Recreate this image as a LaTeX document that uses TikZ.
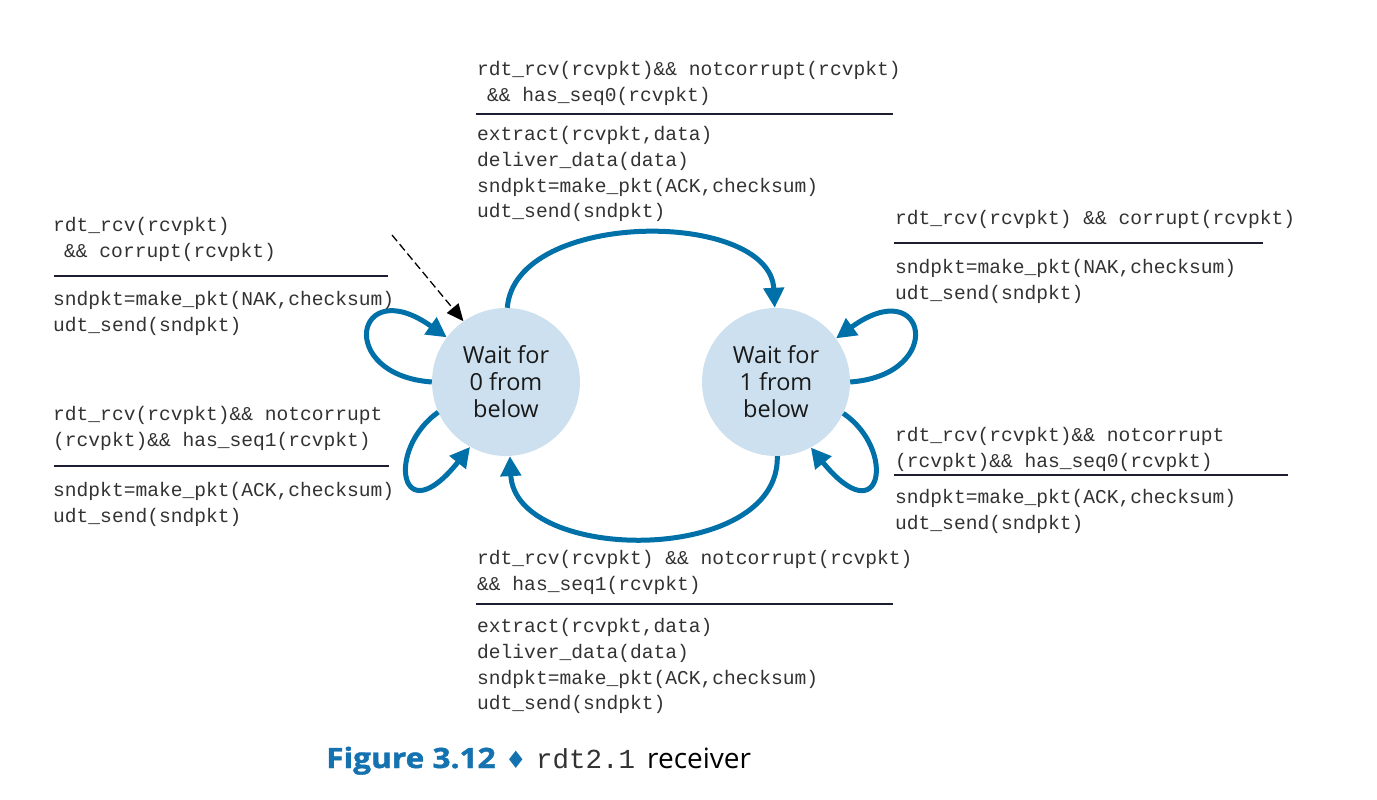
\documentclass[tikz,border=0pt]{standalone}
\usepackage{fontspec}
\setmainfont{Open Sans}
\newfontfamily\monof{Liberation Mono}
\newfontfamily\sansf{Open Sans}
\newfontfamily\capf{Open Sans}[FakeStretch=1.13, BoldFeatures={FakeBold=1.5}]
\newfontfamily\symf{DejaVu Sans}
\usetikzlibrary{arrows.meta}
\definecolor{arrowblue}{RGB}{0,112,168}
\definecolor{statefill}{RGB}{204,224,239}
\definecolor{textc}{RGB}{50,50,50}
\definecolor{rulec}{RGB}{30,30,50}
\definecolor{capblue}{RGB}{20,114,176}
\begin{document}
\begin{tikzpicture}[x=1pt,y=-1pt,
 state/.style={circle, fill=statefill, minimum size=148pt, inner sep=0pt, align=center,
   font=\sansf\fontsize{23.5}{27}\selectfont, text=black!90},
 code/.style={inner sep=0pt, anchor=north west, align=left,
   font=\monof\fontsize{19.6}{25.7}\selectfont, text=textc},
 trans/.style={draw=arrowblue, line width=5pt, -{Triangle[length=20pt,width=20pt]}},
 rulel/.style={draw=rulec, line width=1.4pt},
 init/.style={draw=black, line width=1.3pt, dash pattern=on 8pt off 4pt,
   -{Triangle[length=17pt,width=15pt]}},
 capt/.style={inner sep=0pt, anchor=base west, font=\sansf\fontsize{28}{30}\selectfont}]
\useasboundingbox (0,0) rectangle (1377,800);

% states
\node[state] (L) at (506,382) {Wait for\\0 from\\below};
\node[state] (R) at (776,382) {Wait for\\1 from\\below};

% transitions between states
\draw[trans] (L.89) .. controls (515,209) and (770,209) .. (R.91);
\draw[trans] (R.271.5) .. controls (780,566) and (515,564) .. (L.273);

% self loops
\draw[trans] (L.180) .. controls (335,375) and (355,272) .. (L.143.6);
\draw[trans] (L.204.5) .. controls (385,450) and (400,535) .. (L.241.4);
\draw[trans] (R.0) .. controls (947,375) and (927,272) .. (R.36.4);
\draw[trans] (R.335.5) .. controls (897,450) and (882,535) .. (R.298.6);

% initial arrow
\coordinate (start) at (392,235);
\draw[init] (start) -- (L.125);

% top label
\node[code] (tg) at (477,57.6) {\strut rdt\_rcv(rcvpkt)\&\& notcorrupt(rcvpkt)\\\hspace*{10pt}\&\& has\_seq0(rcvpkt)};
\draw[rulel] (476,114) -- (893,114);
\node[code] (ta) at (477,122.6) {\strut extract(rcvpkt,data)\\deliver\_data(data)\\sndpkt=make\_pkt(ACK,checksum)\\udt\_send(sndpkt)};

% right upper label
\node[code] (rug) at (895,206.6) {\strut rdt\_rcv(rcvpkt) \&\& corrupt(rcvpkt)};
\draw[rulel] (894,243) -- (1263,243);
\node[code] (rua) at (895,255.6) {\strut sndpkt=make\_pkt(NAK,checksum)\\udt\_send(sndpkt)};

% left upper label
\node[code] (lug) at (53,213.6) {\strut rdt\_rcv(rcvpkt)\\\hspace*{11pt}\&\& corrupt(rcvpkt)};
\draw[rulel] (54,276) -- (388,276);
\node[code] (lua) at (53,287.6) {\strut sndpkt=make\_pkt(NAK,checksum)\\udt\_send(sndpkt)};

% left lower label
\node[code] (llg) at (53,402.6) {\strut rdt\_rcv(rcvpkt)\&\& notcorrupt\\(rcvpkt)\&\& has\_seq1(rcvpkt)};
\draw[rulel] (54,466) -- (389,466);
\node[code] (lla) at (53,478.6) {\strut sndpkt=make\_pkt(ACK,checksum)\\udt\_send(sndpkt)};

% right lower label
\node[code] (rlg) at (895,423.6) {\strut rdt\_rcv(rcvpkt)\&\& notcorrupt\\(rcvpkt)\&\& has\_seq0(rcvpkt)};
\draw[rulel] (894,475) -- (1288,475);
\node[code] (rla) at (895,485.6) {\strut sndpkt=make\_pkt(ACK,checksum)\\udt\_send(sndpkt)};

% bottom label
\node[code] (bg) at (477,546.6) {\strut rdt\_rcv(rcvpkt) \&\& notcorrupt(rcvpkt)\\\&\& has\_seq1(rcvpkt)};
\draw[rulel] (476,604) -- (893,604);
\node[code] (ba) at (477,614.6) {\strut extract(rcvpkt,data)\\deliver\_data(data)\\sndpkt=make\_pkt(ACK,checksum)\\udt\_send(sndpkt)};

% caption
\node[capt, text=capblue, font=\capf\bfseries\fontsize{28}{30}\selectfont] (capfig) at (326,768) {Figure 3.12};
\node[inner sep=0pt, text=capblue, font=\symf\fontsize{24}{26}\selectfont] (capdia) at (516,760) {♦};
\node[capt, font=\monof\fontsize{27.5}{30}\selectfont, text=textc] (capcode) at (536,768) {rdt2.1};
\node[capt, text=black] (caprecv) at (647,768) {receiver};
\end{tikzpicture}
\end{document}
